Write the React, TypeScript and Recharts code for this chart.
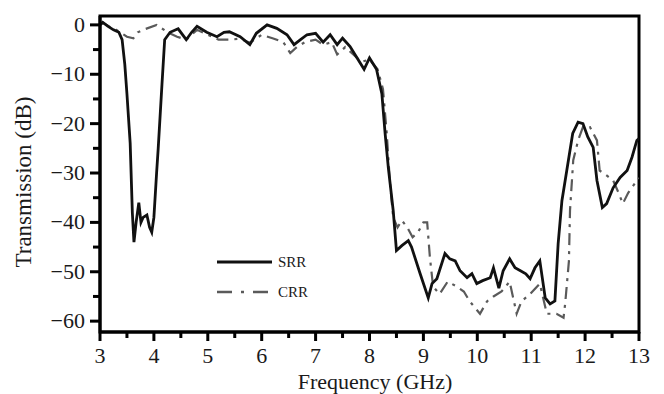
import React from "react";
import { LineChart, Line, XAxis, YAxis, ReferenceArea } from "recharts";

const srrFreq = [3.0, 3.05, 3.15, 3.25, 3.35, 3.41, 3.46, 3.5, 3.56, 3.6, 3.63, 3.67, 3.72, 3.76, 3.8, 3.87, 3.92, 3.96, 4.0, 4.05, 4.08, 4.15, 4.2, 4.3, 4.45, 4.6, 4.7, 4.8, 4.98, 5.17, 5.3, 5.4, 5.6, 5.78, 5.9, 6.1, 6.28, 6.47, 6.6, 6.72, 6.84, 7.0, 7.14, 7.27, 7.4, 7.5, 7.64, 7.73, 7.9, 8.0, 8.13, 8.23, 8.29, 8.35, 8.44, 8.5, 8.6, 8.72, 8.78, 8.94, 9.09, 9.16, 9.25, 9.4, 9.49, 9.59, 9.68, 9.81, 9.9, 9.99, 10.1, 10.24, 10.3, 10.4, 10.48, 10.6, 10.7, 10.8, 10.9, 10.98, 11.07, 11.16, 11.26, 11.35, 11.44, 11.5, 11.57, 11.66, 11.77, 11.87, 11.96, 12.05, 12.15, 12.22, 12.32, 12.4, 12.52, 12.65, 12.78, 12.87, 12.96, 13.0];
const srrDb = [0, 0.5, -0.3, -1, -1.5, -3, -8, -14, -24, -38, -44, -40, -36, -40, -39, -38.5, -41, -42, -39, -30, -25, -12, -3, -1.5, -0.8, -3, -1.5, -0.3, -1.5, -2.4, -1.5, -1.4, -2.4, -4, -1.7, 0, -0.7, -2, -4, -3, -2, -1.7, -3.5, -2, -4, -2.7, -4.4, -6, -9, -6.7, -9, -14, -22, -29, -37.6, -45.7, -44.7, -43.7, -45, -50.4, -55.3, -52.4, -51.4, -46.3, -47.4, -47.8, -49.8, -51.2, -50.4, -52.4, -51.8, -51.2, -49.2, -53.3, -49.8, -47.4, -49.2, -49.8, -50.4, -51.4, -49.2, -47.8, -55.3, -56.5, -55.9, -44.3, -35.6, -29.5, -22, -19.7, -20, -22.7, -24.8, -31.5, -37, -36.2, -33, -30.9, -29.5, -26.8, -23.4, -23];

const crrFreq = [3.0, 3.06, 3.2, 3.3, 3.5, 3.62, 3.7, 3.8, 4.05, 4.24, 4.43, 4.6, 4.8, 5.0, 5.2, 5.4, 5.6, 5.78, 6.0, 6.2, 6.4, 6.53, 6.65, 6.8, 7.0, 7.14, 7.3, 7.4, 7.55, 7.7, 7.85, 8.0, 8.15, 8.25, 8.32, 8.38, 8.44, 8.52, 8.6, 8.7, 8.8, 8.9, 9.0, 9.07, 9.12, 9.18, 9.3, 9.45, 9.62, 9.75, 9.86, 10.05, 10.18, 10.3, 10.45, 10.6, 10.73, 10.82, 10.98, 11.16, 11.29, 11.47, 11.6, 11.63, 11.7, 11.72, 11.78, 11.87, 11.96, 12.09, 12.22, 12.27, 12.4, 12.52, 12.62, 12.7, 12.8, 12.93, 13.0];
const crrDb = [0, 0.4, -0.5, -1, -2.4, -2.7, -1.5, -1, 0, -1.4, -2.4, -3, -1, -2, -3, -3, -2.8, -3.6, -2, -2.7, -3.5, -5.7, -4.5, -3.5, -3, -4, -3.5, -6, -4.5, -6, -7.5, -7, -9, -13, -22, -32, -39, -41, -39.6, -41, -43, -42, -40, -40, -47, -53, -54.5, -52, -53, -54, -56, -58.5, -56, -55, -54, -52, -58.5, -56, -54.5, -52.4, -58.5, -58.5, -59.3, -56.5, -47.8, -37.6, -27.4, -23.4, -20.7, -20.7, -23.4, -29.5, -30.5, -31.5, -34, -36.2, -34, -32, -31];

const xTicks = [3, 3.5, 4, 4.5, 5, 5.5, 6, 6.5, 7, 7.5, 8, 8.5, 9, 9.5, 10, 10.5, 11, 11.5, 12, 12.5, 13];
const yTicks = [0, -5, -10, -15, -20, -25, -30, -35, -40, -45, -50, -55, -60];
const seriesNames = ["SRR", "CRR"];

const srrData = srrFreq.map((f, i) => ({ f, v: srrDb[i] }));
const crrData = crrFreq.map((f, i) => ({ f, v: crrDb[i] }));

const FONT = '"Liberation Serif", "Times New Roman", serif';
const TXT = "#1a1a1a";

const fmt = (v: number) => (v < 0 ? "\u2212" + Math.abs(v) : String(v));

const XTick = (props: any) => {
  const { x, y, payload } = props;
  const major = Number.isInteger(payload.value);
  return (
    <g>
      <line x1={x} x2={x} y1={y} y2={y + (major ? 9 : 6)} stroke="#000" strokeWidth={3} />
      {major && (
        <text x={x} y={y + 31} textAnchor="middle" fontFamily={FONT} fontSize={22} fill={TXT}>
          {payload.value}
        </text>
      )}
    </g>
  );
};

const YTick = (props: any) => {
  const { x, y, payload } = props;
  const major = payload.value % 10 === 0;
  return (
    <g>
      <line x1={x} x2={x - (major ? 10 : 7)} y1={y} y2={y} stroke="#000" strokeWidth={3} />
      {major && (
        <text x={x - 15} y={y + 7} textAnchor="end" fontFamily={FONT} fontSize={22} fill={TXT}>
          {fmt(payload.value)}
        </text>
      )}
    </g>
  );
};

export default function App() {
  return (
    <div style={{ position: "absolute", left: 0, top: 0, width: 664, height: 394, background: "#fff", overflow: "hidden" }}>
      <LineChart width={664} height={394} data={srrData} margin={{ top: 16, right: 25, bottom: 0, left: 0 }}>
        <XAxis
          dataKey="f"
          type="number"
          domain={[3, 13]}
          ticks={xTicks}
          interval={0}
          allowDataOverflow
          height={62}
          tickSize={0}
          tickMargin={0}
          tickLine={false}
          axisLine={{ stroke: "#000", strokeWidth: 3 }}
          tick={<XTick />}
        />
        <YAxis
          dataKey="v"
          type="number"
          domain={[-62.2, 1.8]}
          ticks={yTicks}
          interval={0}
          allowDataOverflow
          width={100}
          tickSize={0}
          tickMargin={0}
          tickLine={false}
          axisLine={{ stroke: "#000", strokeWidth: 3 }}
          tick={<YTick />}
        />
        <Line
          data={crrData}
          dataKey="v"
          type="linear"
          stroke="#5a5a5a"
          strokeWidth={2.2}
          strokeDasharray="12 6 3 6"
          dot={false}
          isAnimationActive={false}
        />
        <Line
          data={srrData}
          dataKey="v"
          type="linear"
          stroke="#111"
          strokeWidth={2.8}
          dot={false}
          isAnimationActive={false}
        />
        <ReferenceArea x1={3} x2={13} y1={-62.2} y2={1.8} fill="none" stroke="#000" strokeWidth={3} ifOverflow="visible" />
      </LineChart>
      <svg width={664} height={394} style={{ position: "absolute", left: 0, top: 0, pointerEvents: "none" }}>
        <text
          x={0}
          y={0}
          transform="translate(31,182) rotate(-90)"
          textAnchor="middle"
          fontFamily={FONT}
          fontSize={23}
          fill={TXT}
        >
          Transmission (dB)
        </text>
        <text x={375} y={389} textAnchor="middle" fontFamily={FONT} fontSize={22} fill={TXT}>
          Frequency (GHz)
        </text>
        <line x1={217} x2={272} y1={262} y2={262} stroke="#111" strokeWidth={3} />
        <text x={278} y={267} fontFamily={FONT} fontSize={15} fill={TXT}>
          {seriesNames[0]}
        </text>
        <line x1={217} x2={272} y1={292} y2={292} stroke="#5a5a5a" strokeWidth={2.5} strokeDasharray="15 9 3 9" />
        <text x={278} y={297} fontFamily={FONT} fontSize={15} fill={TXT}>
          {seriesNames[1]}
        </text>
      </svg>
    </div>
  );
}
